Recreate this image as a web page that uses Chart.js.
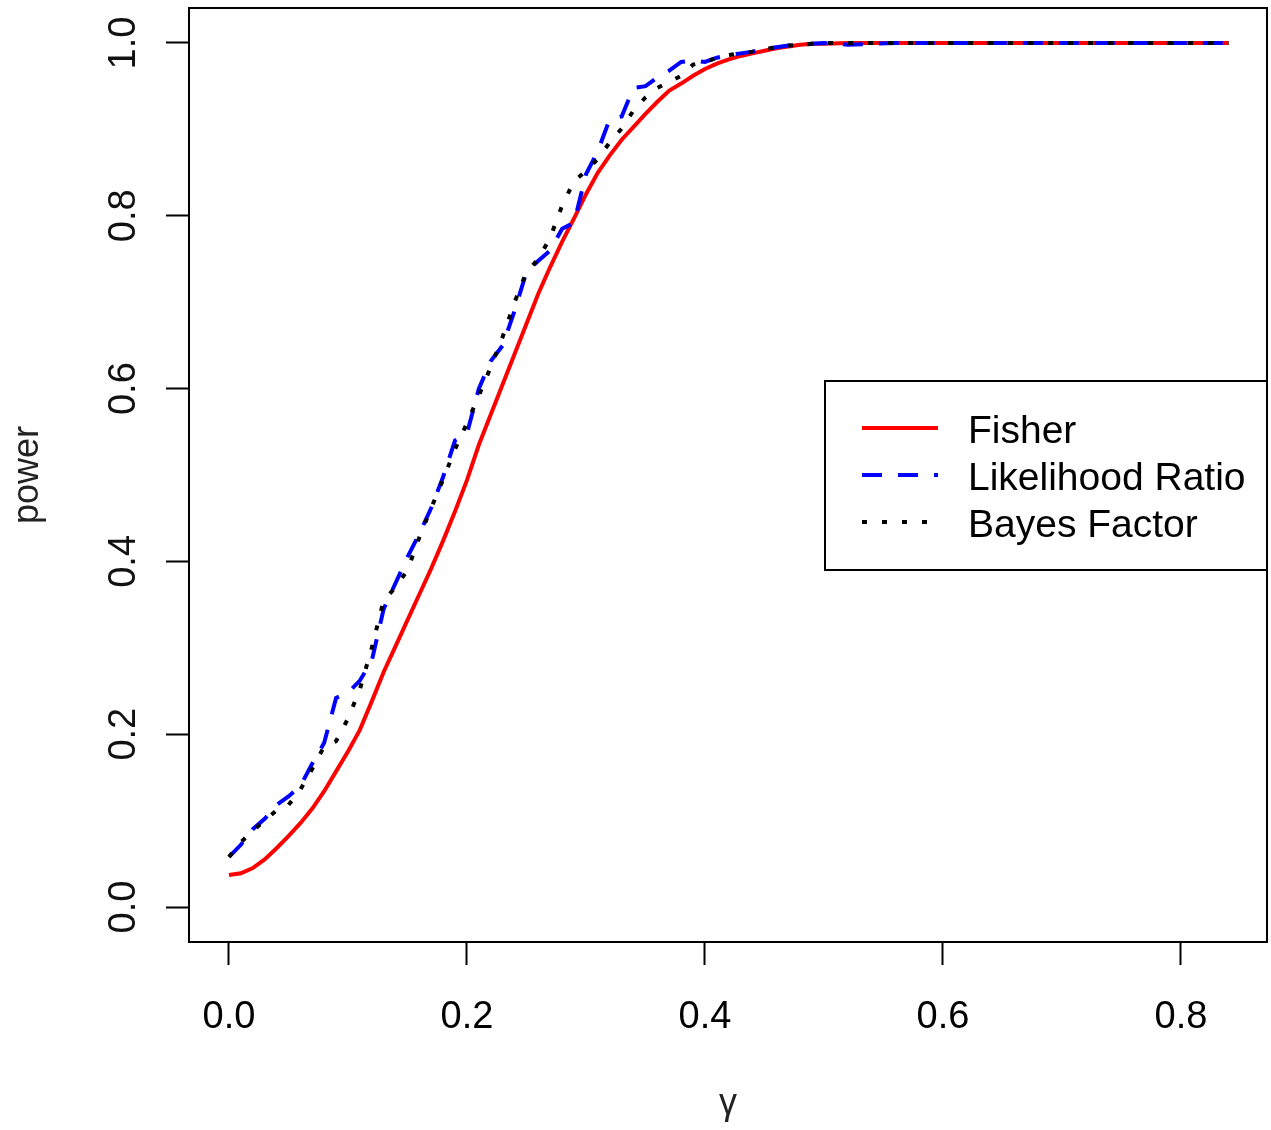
<!DOCTYPE html>
<html>
<head>
<meta charset="utf-8">
<script src="https://cdn.jsdelivr.net/npm/chart.js@4.4.1/dist/chart.umd.min.js"></script>
<style>
  html, body { margin: 0; padding: 0; background: #fff; }
  #wrap { width: 1271px; height: 1130px; }
</style>
</head>
<body>
<div id="wrap"><canvas id="powerChart"></canvas></div>
<script>
// gamma values on the x axis
const gamma = [
  0.00, 0.01, 0.02, 0.03, 0.04, 0.05, 0.06, 0.07, 0.08, 0.09,
  0.10, 0.11, 0.12, 0.13, 0.14, 0.15, 0.16, 0.17, 0.18, 0.19,
  0.20, 0.21, 0.22, 0.23, 0.24, 0.25, 0.26, 0.27, 0.28, 0.29,
  0.30, 0.31, 0.32, 0.33, 0.34, 0.35, 0.36, 0.37, 0.38, 0.39,
  0.40, 0.41, 0.42, 0.43, 0.44, 0.45, 0.46, 0.47, 0.48, 0.49,
  0.50, 0.52, 0.56, 0.60, 0.65, 0.70, 0.75, 0.80, 0.84
];

const fisherPower = [
  0.037, 0.039, 0.045, 0.055, 0.068, 0.082, 0.097, 0.114, 0.134, 0.157,
  0.180, 0.205, 0.238, 0.272, 0.302, 0.332, 0.362, 0.392, 0.424, 0.458,
  0.494, 0.535, 0.570, 0.605, 0.640, 0.675, 0.710, 0.741, 0.770, 0.797,
  0.825, 0.850, 0.870, 0.888, 0.903, 0.918, 0.932, 0.945, 0.953, 0.962,
  0.970, 0.976, 0.981, 0.985, 0.988, 0.991, 0.994, 0.996, 0.998, 0.999,
  0.999, 1.000, 1.000, 1.000, 1.000, 1.000, 1.000, 1.000, 1.000
];

const lrPower = [
  0.058, 0.072, 0.090, 0.102, 0.118, 0.128, 0.140, 0.166, 0.190, 0.242,
  0.248, 0.262, 0.285, 0.345, 0.375, 0.405, 0.432, 0.462, 0.498, 0.540,
  0.548, 0.600, 0.632, 0.650, 0.690, 0.735, 0.748, 0.760, 0.785, 0.792,
  0.848, 0.875, 0.912, 0.915, 0.948, 0.950, 0.960, 0.968, 0.978, 0.980,
  0.978, 0.983, 0.986, 0.988, 0.990, 0.993, 0.995, 0.997, 0.998, 0.999,
  1.000, 0.998, 1.000, 1.000, 1.000, 1.000, 1.000, 1.000, 1.000
];

const bfPower = [
  0.058, 0.075, 0.088, 0.100, 0.112, 0.118, 0.136, 0.160, 0.186, 0.192,
  0.218, 0.252, 0.300, 0.355, 0.370, 0.390, 0.428, 0.462, 0.495, 0.530,
  0.560, 0.592, 0.625, 0.660, 0.700, 0.735, 0.750, 0.775, 0.812, 0.840,
  0.852, 0.866, 0.885, 0.901, 0.922, 0.937, 0.948, 0.955, 0.962, 0.975,
  0.978, 0.983, 0.986, 0.988, 0.990, 0.993, 0.995, 0.997, 0.998, 0.999,
  1.000, 1.000, 1.000, 1.000, 1.000, 1.000, 1.000, 1.000, 1.000
];

const xTicks = [0.0, 0.2, 0.4, 0.6, 0.8];
const yTicks = [0.0, 0.2, 0.4, 0.6, 0.8, 1.0];

const FONT = '"Liberation Sans", Arial, sans-serif';

function toPoints(ys) {
  return gamma.map((g, i) => ({ x: g, y: ys[i] }));
}

// box around the plot, rotated y labels (R style) and the legend
const rStylePlugin = {
  id: 'rStyle',
  afterDraw(chart) {
    const ctx = chart.ctx;
    const area = chart.chartArea;
    const yScale = chart.scales.y;

    ctx.save();
    ctx.strokeStyle = '#000';
    ctx.lineWidth = 2;
    ctx.strokeRect(area.left, area.top, area.right - area.left, area.bottom - area.top);

    // y tick labels, rotated
    ctx.fillStyle = '#111';
    ctx.font = '38px ' + FONT;
    ctx.textAlign = 'center';
    ctx.textBaseline = 'alphabetic';
    yTicks.forEach(v => {
      const py = yScale.getPixelForValue(v);
      ctx.save();
      ctx.translate(135, py);
      ctx.rotate(-Math.PI / 2);
      ctx.fillText(v.toFixed(1), 0, 0);
      ctx.restore();
    });

    // legend
    const bx = 825, by = 381, bw = 442, bh = 189;
    ctx.fillStyle = '#fff';
    ctx.fillRect(bx, by, bw, bh);
    ctx.strokeStyle = '#000';
    ctx.lineWidth = 2;
    ctx.strokeRect(bx, by, bw, bh);

    const rows = [428, 475, 522];
    ['Fisher', 'Likelihood Ratio', 'Bayes Factor'].forEach((lbl, i) => {
      const ds = chart.data.datasets.find(d => d.label === lbl);
      ctx.beginPath();
      ctx.setLineDash(ds.borderDash || []);
      ctx.strokeStyle = ds.borderColor;
      ctx.lineWidth = ds.borderWidth;
      ctx.moveTo(862, rows[i]);
      ctx.lineTo(938, rows[i]);
      ctx.stroke();
      ctx.setLineDash([]);
      ctx.fillStyle = '#000';
      ctx.font = '39px ' + FONT;
      ctx.textAlign = 'left';
      ctx.textBaseline = 'middle';
      ctx.fillText(lbl, 968, rows[i] + 4);
    });
    ctx.restore();
  }
};

const ctx = document.getElementById('powerChart').getContext('2d');

new Chart(ctx, {
  type: 'line',
  data: {
    datasets: [
      {
        label: 'Fisher',
        data: toPoints(fisherPower),
        borderColor: '#ff0000',
        borderWidth: 4,
        order: 3
      },
      {
        label: 'Likelihood Ratio',
        data: toPoints(lrPower),
        borderColor: '#0000ff',
        borderWidth: 4,
        borderDash: [20, 16],
        order: 2
      },
      {
        label: 'Bayes Factor',
        data: toPoints(bfPower),
        borderColor: '#000000',
        borderWidth: 4,
        borderDash: [5, 15],
        order: 1
      }
    ]
  },
  options: {
    responsive: true,
    maintainAspectRatio: false,
    animation: false,
    elements: {
      point: { radius: 0 },
      line: { tension: 0, fill: false }
    },
    layout: {
      padding: { top: 8, right: 4, left: 0, bottom: 0 }
    },
    plugins: {
      legend: { display: false },
      tooltip: { enabled: false }
    },
    scales: {
      x: {
        type: 'linear',
        min: -0.0336,
        max: 0.8723,
        afterBuildTicks: scale => {
          scale.ticks = xTicks.map(v => ({ value: v }));
        },
        afterFit: scale => {
          scale.height = 188;
        },
        ticks: {
          color: '#000',
          font: { family: FONT, size: 38 },
          padding: 30,
          maxRotation: 0,
          callback: v => Number(v).toFixed(1)
        },
        grid: {
          drawOnChartArea: false,
          drawTicks: true,
          tickLength: 23,
          tickWidth: 2,
          tickColor: '#000'
        },
        border: { display: false },
        title: {
          display: true,
          text: 'γ',
          color: '#222',
          font: { family: FONT, size: 36 },
          padding: { top: 0, bottom: 4 }
        }
      },
      y: {
        type: 'linear',
        min: -0.0405,
        max: 1.0405,
        afterBuildTicks: scale => {
          scale.ticks = yTicks.map(v => ({ value: v }));
        },
        afterFit: scale => {
          scale.width = 189;
        },
        ticks: { display: false },
        grid: {
          drawOnChartArea: false,
          drawTicks: true,
          tickLength: 23,
          tickWidth: 2,
          tickColor: '#000'
        },
        border: { display: false },
        title: {
          display: true,
          text: 'power',
          color: '#222',
          font: { family: FONT, size: 36 },
          padding: { top: 6, bottom: 0 }
        }
      }
    }
  },
  plugins: [rStylePlugin]
});
</script>
</body>
</html>
